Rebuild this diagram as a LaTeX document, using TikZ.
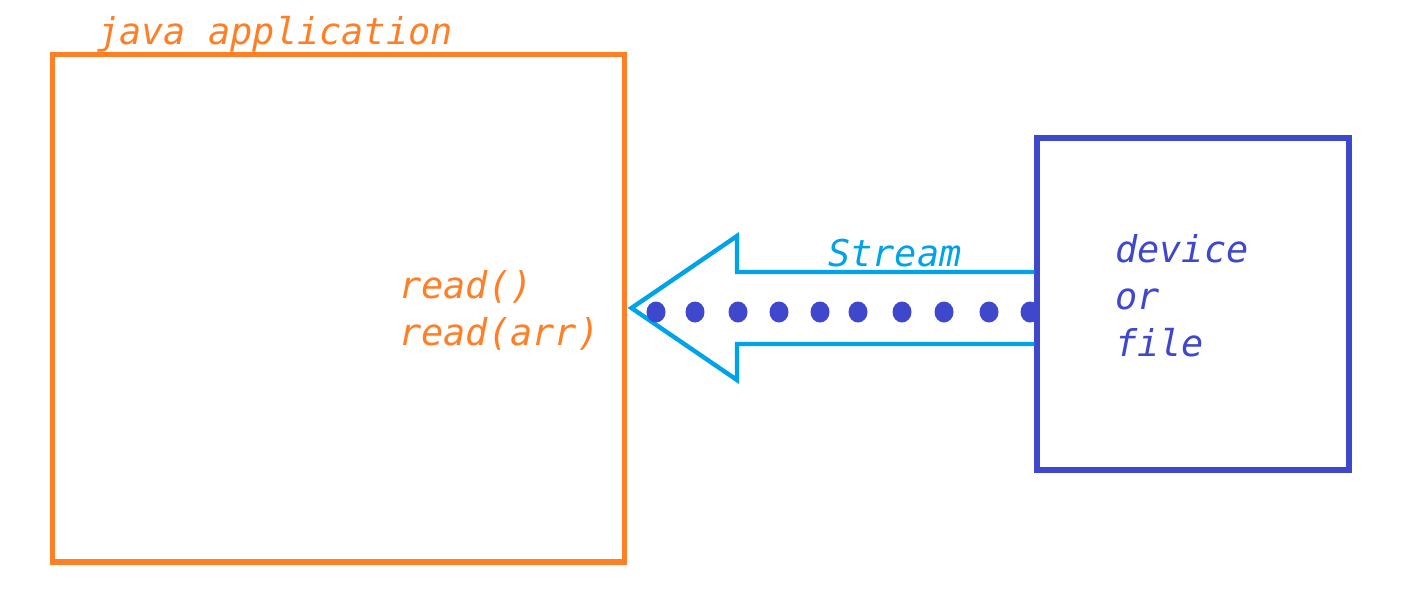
\documentclass[tikz,border=0pt]{standalone}
\usepackage{fontspec}
\newfontfamily\codefont{DejaVu Sans Mono}
\usetikzlibrary{calc}
\definecolor{apporange}{HTML}{FF7F27}
\definecolor{streamcyan}{HTML}{00A2E8}
\definecolor{devindigo}{HTML}{3F48CC}
\tikzset{
	label text/.style={anchor=base west, inner sep=0pt, align=left, font=\codefont\itshape\fontsize{21}{26.6}\selectfont},
	box/.style={draw, inner sep=0pt, line width=2.9pt}
}

\begin{document}
\begin{tikzpicture}[x=0.02cm, y=-0.02cm]
			%%%%% START %%%%%
			\useasboundingbox (0, 0) rectangle (1420, 600);
			
			\node[box, color=apporange, minimum width=11.46cm, minimum height=10.16cm] (app) at (338.5, 308) {};
			\node[box, color=devindigo, minimum width=6.24cm, minimum height=6.64cm] (dev) at (1193, 304) {};
			
			\node[label text, color=apporange] (title) at (97, 44) {java application};
			\node[label text, color=apporange] (reads) at (399, 345) {read()\\read(arr)};
			\node[label text, color=devindigo] (devtext) at (1115, 356) {device\\or\\file};
			\node[label text, color=streamcyan] (streamtext) at (828, 266) {Stream};
			
			\coordinate (tip) at ($(app.east)+(4, 0)$);
			\draw[line width=2.5pt, color=streamcyan, line join=miter]
				(dev.west |- 0, 272) -- (737, 272) -- (737, 236) -- (tip)
				-- (737, 380) -- (737, 344) -- (dev.west |- 0, 344);
			
			\foreach \x in {656, 695, 738, 779, 820, 858, 902, 944, 989, 1030}
				\fill[devindigo] (\x, 312) ellipse [x radius=0.19cm, y radius=0.21cm];
			
			%%%%% END %%%%%
		\end{tikzpicture}
\end{document}
